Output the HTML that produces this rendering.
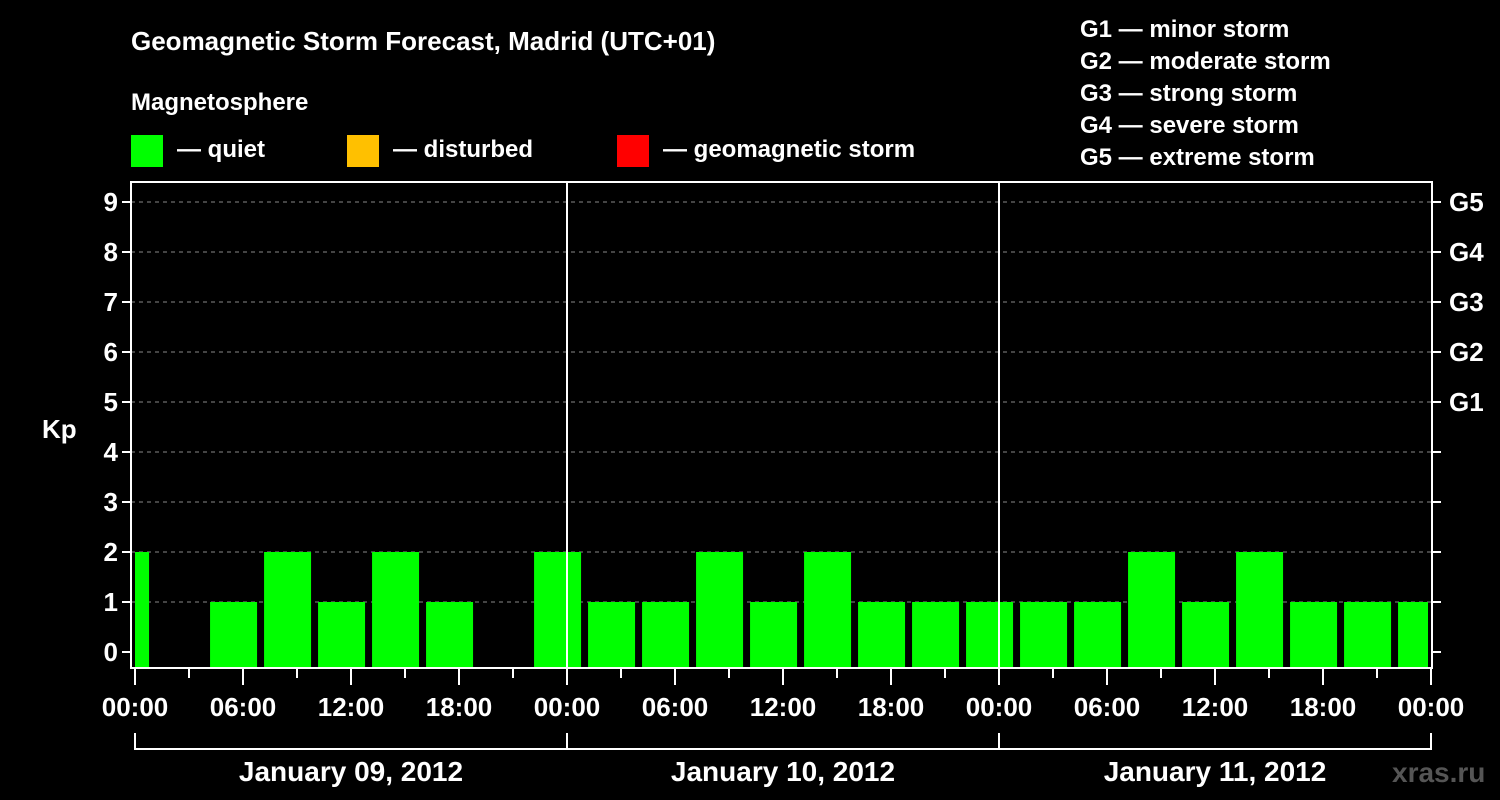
<!DOCTYPE html>
<html><head><meta charset="utf-8"><style>
body{margin:0;background:#000;width:1500px;height:800px;overflow:hidden}
svg{display:block;font-family:"Liberation Sans",sans-serif;font-weight:bold}
</style></head><body>
<svg id="chart" width="1500" height="800" xmlns="http://www.w3.org/2000/svg">
<rect width="1500" height="800" fill="#000"/>
<text x="131" y="50" fill="#fff" font-size="26">Geomagnetic Storm Forecast, Madrid (UTC+01)</text>
<text x="131" y="110" fill="#fff" font-size="24">Magnetosphere</text>
<g><rect x="131" y="135" width="32" height="32" fill="#00ff00"/><text x="177" y="157" fill="#fff" font-size="24">— quiet</text></g>
<g><rect x="347" y="135" width="32" height="32" fill="#ffc000"/><text x="393" y="157" fill="#fff" font-size="24">— disturbed</text></g>
<g><rect x="617" y="135" width="32" height="32" fill="#ff0000"/><text x="663" y="157" fill="#fff" font-size="24">— geomagnetic storm</text></g>
<g fill="#fff" font-size="24">
<text x="1080" y="37">G1 — minor storm</text>
<text x="1080" y="69">G2 — moderate storm</text>
<text x="1080" y="101">G3 — strong storm</text>
<text x="1080" y="133">G4 — severe storm</text>
<text x="1080" y="165">G5 — extreme storm</text>
</g>
<text x="42" y="438" fill="#fff" font-size="26">Kp</text>
<text x="1392" y="782" fill="#555" font-size="28">xras.ru</text>
<g id="grid"></g><g id="bars"></g><g id="axes"></g>
</svg>
<script>
const kpValues=[2,0,1,2,1,2,1,0,2,1,1,2,1,2,1,1,1,1,1,2,1,2,1,1,1];
const yTicks=[0,1,2,3,4,5,6,7,8,9];
const gLabels=["G1","G2","G3","G4","G5"];
const xTickLabels=["00:00","06:00","12:00","18:00","00:00","06:00","12:00","18:00","00:00","06:00","12:00","18:00","00:00"];
const dayLabels=["January 09, 2012","January 10, 2012","January 11, 2012"];
const NS="http://www.w3.org/2000/svg";
const L=131,R=1432,T=182,B=668,X0=135,PXH=18;
const x=h=>X0+h*PXH;
const y=v=>652-v*50;
function mk(tag,attrs,parent,txt){const e=document.createElementNS(NS,tag);for(const k in attrs)e.setAttribute(k,attrs[k]);if(txt!==undefined)e.textContent=txt;document.getElementById(parent).appendChild(e);return e;}
yTicks.forEach(v=>{
 if(v>0){const g=mk('line',{x1:L,x2:R,y1:y(v),y2:y(v),stroke:'#888','stroke-dasharray':'4,4','stroke-width':1},'grid');
 
 }
 const t=mk('line',{x1:L-9,x2:L,y1:y(v),y2:y(v),stroke:'#fff','stroke-width':2},'axes');
 
 
 const rt=mk('line',{x1:R,x2:R+9,y1:y(v),y2:y(v),stroke:'#fff','stroke-width':2},'axes');
 
 
 const l=mk('text',{x:L-13,y:y(v)+9,fill:'#fff','font-size':26,'text-anchor':'end'},'axes',String(v));
 
 
});
gLabels.forEach((g,i)=>{
 const l=mk('text',{x:R+17,y:y(5+i)+9,fill:'#fff','font-size':26},'axes',g);
 
 
});
kpValues.forEach((v,k)=>{
 if(v<=0)return;
 let x1=x(k*3-1.83),x2=x1+47;
 x1=Math.max(x1,L+4);x2=Math.min(x2,R-4);
 const c=v>=5?'#ff0000':(v>=4?'#ffc000':'#00ff00');
 const r=mk('rect',{x:x1,y:y(v),width:x2-x1,height:B-y(v),fill:c},'bars');
 
 
});
const fr=mk('rect',{x:L,y:T,width:R-L,height:B-T,fill:'none',stroke:'#fff','stroke-width':2},'axes');


[1,2].forEach(d=>{const l=mk('line',{x1:x(d*24),x2:x(d*24),y1:T,y2:B,stroke:'#fff','stroke-width':2},'axes');
 
 });
for(let h=0;h<=72;h+=3){const major=h%6===0;
 const t=mk('line',{x1:x(h),x2:x(h),y1:B,y2:B+(major?17:10),stroke:'#fff','stroke-width':2},'axes');
 
 }
xTickLabels.forEach((s,i)=>{const l=mk('text',{x:x(i*6),y:716,fill:'#fff','font-size':26,'text-anchor':'middle'},'axes',s);
 
 });
const br=mk('line',{x1:x(0),x2:x(72),y1:749,y2:749,stroke:'#fff','stroke-width':2},'axes');


[0,1,2,3].forEach(d=>{const l=mk('line',{x1:x(d*24),x2:x(d*24),y1:733,y2:750,stroke:'#fff','stroke-width':2},'axes');
 
 });
dayLabels.forEach((s,i)=>{const l=mk('text',{x:x(i*24+12),y:781,fill:'#fff','font-size':28,'text-anchor':'middle'},'axes',s);
 
 });
</script>
</body></html>
